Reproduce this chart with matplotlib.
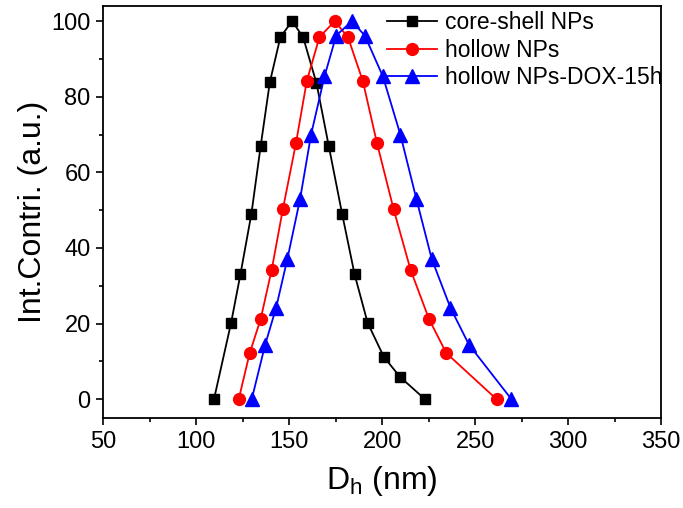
import matplotlib.pyplot as plt
from matplotlib.ticker import MultipleLocator

plt.rcParams['font.family'] = ['Liberation Sans', 'DejaVu Sans']

# core-shell NPs (black squares)
x_core = [109.6, 118.8, 123.8, 129.7, 134.7, 139.6, 145.3, 151.6, 157.5,
          164.7, 171.3, 178.5, 185.2, 192.2, 200.9, 209.6, 223.0]
y_core = [0, 20.2, 33.0, 49.0, 67.0, 83.8, 95.8, 100, 95.8,
          83.6, 67.0, 49.0, 33.0, 20.2, 11.2, 5.9, 0]

# hollow NPs (red circles)
x_hollow = [122.9, 128.8, 134.7, 140.6, 146.6, 153.7, 159.5, 166.3, 174.5,
            181.6, 189.6, 197.2, 206.2, 215.3, 225.2, 234.5, 261.5]
y_hollow = [0, 12.2, 21.2, 34.2, 50.2, 67.8, 84.2, 95.8, 100,
            95.8, 84.2, 67.8, 50.2, 34.2, 21.2, 12.2, 0]

# hollow NPs-DOX-15h (blue triangles)
x_dox = [129.9, 137.1, 143.0, 149.1, 155.9, 161.8, 169.0, 175.3, 183.7,
         190.7, 200.4, 209.8, 218.4, 226.6, 236.7, 246.7, 269.5]
y_dox = [0, 14.4, 24.2, 37.2, 53.0, 70.0, 85.4, 96.2, 100,
         96.2, 85.4, 70.0, 53.0, 37.2, 24.2, 14.4, 0]

fig = plt.figure(figsize=(6.83, 5.08), dpi=100)
ax = fig.add_axes([0.151, 0.177, 0.817, 0.811])

ax.plot(x_core, y_core, '-s', color='black', lw=1.3, ms=7.7, label='core-shell NPs')
ax.plot(x_hollow, y_hollow, '-o', color='red', lw=1.3, ms=8.5, label='hollow NPs')
ax.plot(x_dox, y_dox, '-^', color='blue', lw=1.3, ms=9.5, label='hollow NPs-DOX-15h')

ax.set_xlim(50, 350)
ax.set_ylim(-5, 104)
ax.xaxis.set_major_locator(MultipleLocator(50))
ax.xaxis.set_minor_locator(MultipleLocator(25))
ax.yaxis.set_major_locator(MultipleLocator(20))
ax.yaxis.set_minor_locator(MultipleLocator(10))
ax.tick_params(which='both', direction='out', top=False, right=False, width=1.2)
ax.tick_params(which='major', length=5, labelsize=17, pad=4)
ax.tick_params(which='minor', length=3)
for s in ax.spines.values():
    s.set_linewidth(1.3)

ax.set_xlabel(r'D$_\mathregular{h}$ (nm)', fontsize=23, labelpad=8)
ax.set_ylabel('Int.Contri. (a.u.)', fontsize=23, labelpad=2)

ax.legend(loc='upper left', bbox_to_anchor=(387 / 683, 1 - 11 / 508),
          bbox_transform=fig.transFigure, frameon=False, borderpad=0,
          borderaxespad=0, fontsize=16.5, handlelength=2.18,
          handletextpad=0.35, labelspacing=0.2)

fig.savefig('out.png', dpi=100)
